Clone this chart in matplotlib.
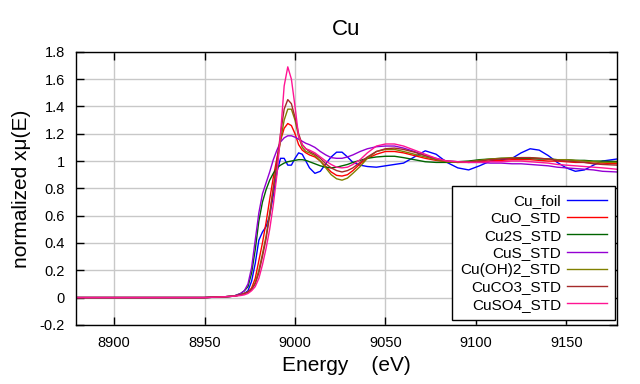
import matplotlib
matplotlib.use("Agg")
import matplotlib.pyplot as plt

plt.rcParams['font.family'] = ['Liberation Sans', 'DejaVu Sans']

energy = [8879, 8900, 8930, 8950, 8960, 8966, 8970, 8972, 8974, 8976, 8978, 8980, 8982, 8984, 8986,
          8988, 8990, 8992, 8994, 8996, 8998, 9000, 9002, 9004, 9006, 9008, 9011, 9014, 9017, 9020,
          9023, 9026, 9029, 9032, 9036, 9040, 9045, 9050, 9055, 9060, 9066, 9072, 9078, 9084, 9090,
          9096, 9102, 9108, 9114, 9120, 9125, 9130, 9135, 9140, 9145, 9150, 9155, 9160, 9165, 9170, 9178]

cu_foil = [0, 0, 0, 0, 0.005, 0.01, 0.02, 0.03, 0.05, 0.12, 0.25, 0.42, 0.48, 0.52, 0.6,
           0.75, 0.92, 1.02, 1.02, 0.97, 0.97, 1.02, 1.06, 1.05, 1.0, 0.95, 0.91, 0.925, 0.98, 1.03,
           1.065, 1.065, 1.03, 0.99, 0.97, 0.96, 0.955, 0.965, 0.975, 0.985, 1.03, 1.075, 1.05, 0.99, 0.95,
           0.935, 0.965, 1.0, 1.01, 1.02, 1.06, 1.09, 1.08, 1.04, 0.99, 0.95, 0.925, 0.935, 0.97, 1.0, 1.015]

cuo = [0, 0, 0, 0, 0.005, 0.01, 0.02, 0.03, 0.04, 0.07, 0.14, 0.27, 0.4, 0.55, 0.72,
       0.88, 1.02, 1.15, 1.24, 1.275, 1.26, 1.2, 1.12, 1.08, 1.06, 1.045, 1.03, 1.0, 0.96, 0.92,
       0.895, 0.89, 0.9, 0.93, 0.98, 1.02, 1.05, 1.07, 1.07, 1.06, 1.04, 1.02, 1.005, 0.995, 0.99,
       0.99, 0.995, 1.0, 1.005, 1.01, 1.01, 1.01, 1.005, 1.0, 1.0, 0.995, 0.99, 0.99, 0.985, 0.985, 0.98]

cu2s = [0, 0, 0, 0, 0.005, 0.01, 0.03, 0.05, 0.08, 0.18, 0.35, 0.56, 0.7, 0.79, 0.86,
        0.91, 0.95, 0.97, 0.985, 0.995, 1.0, 1.005, 1.01, 1.01, 1.005, 0.995, 0.98, 0.965, 0.955, 0.95,
        0.955, 0.965, 0.975, 0.99, 1.005, 1.02, 1.03, 1.035, 1.035, 1.025, 1.01, 0.995, 0.99, 0.99, 0.995,
        1.0, 1.01, 1.015, 1.02, 1.02, 1.02, 1.02, 1.015, 1.015, 1.01, 1.01, 1.005, 1.005, 1.0, 1.0, 0.995]

cus = [0, 0, 0, 0, 0.005, 0.01, 0.03, 0.05, 0.1, 0.22, 0.42, 0.62, 0.76, 0.84, 0.92,
       1.01, 1.08, 1.14, 1.17, 1.185, 1.185, 1.175, 1.16, 1.145, 1.13, 1.12, 1.1, 1.07, 1.045, 1.025,
       1.02, 1.02, 1.03, 1.045, 1.07, 1.09, 1.105, 1.11, 1.11, 1.095, 1.07, 1.04, 1.02, 1.0, 0.995,
       0.99, 0.99, 0.985, 0.985, 0.98, 0.98, 0.975, 0.97, 0.965, 0.955, 0.95, 0.945, 0.94, 0.935, 0.925, 0.92]

cuoh2 = [0, 0, 0, 0, 0.005, 0.01, 0.02, 0.03, 0.04, 0.06, 0.11, 0.2, 0.32, 0.45, 0.62,
         0.8, 0.98, 1.15, 1.3, 1.38, 1.38, 1.3, 1.18, 1.1, 1.07, 1.06, 1.04, 1.0, 0.95, 0.9,
         0.87, 0.86, 0.875, 0.91, 0.96, 1.02, 1.07, 1.085, 1.085, 1.07, 1.05, 1.03, 1.01, 0.995, 0.99,
         0.995, 1.005, 1.015, 1.02, 1.025, 1.025, 1.025, 1.02, 1.015, 1.01, 1.01, 1.005, 1.0, 0.995, 0.99, 0.99]

cuco3 = [0, 0, 0, 0, 0.005, 0.01, 0.02, 0.03, 0.04, 0.06, 0.1, 0.18, 0.3, 0.43, 0.6,
         0.8, 1.0, 1.2, 1.38, 1.45, 1.42, 1.32, 1.2, 1.12, 1.09, 1.07, 1.05, 1.02, 0.98, 0.95,
         0.93, 0.92, 0.93, 0.95, 0.99, 1.03, 1.07, 1.09, 1.095, 1.085, 1.065, 1.04, 1.015, 1.0, 0.995,
         0.995, 1.0, 1.01, 1.015, 1.02, 1.025, 1.025, 1.02, 1.015, 1.005, 1.0, 0.995, 0.99, 0.98, 0.975, 0.97]

cuso4 = [0, 0, 0, 0, 0.005, 0.01, 0.015, 0.02, 0.03, 0.05, 0.08, 0.14, 0.24, 0.36, 0.5,
         0.68, 0.9, 1.2, 1.55, 1.69, 1.6, 1.4, 1.18, 1.12, 1.09, 1.08, 1.06, 1.03, 1.0, 0.975,
         0.955, 0.95, 0.955, 0.975, 1.01, 1.06, 1.11, 1.125, 1.125, 1.11, 1.08, 1.05, 1.02, 1.0, 0.995,
         0.99, 0.99, 0.995, 0.995, 1.0, 1.0, 0.995, 0.99, 0.985, 0.975, 0.97, 0.965, 0.96, 0.955, 0.95, 0.94]

labels = ['Cu_foil', 'CuO_STD', 'Cu2S_STD', 'CuS_STD', 'Cu(OH)2_STD', 'CuCO3_STD', 'CuSO4_STD']
series = [cu_foil, cuo, cu2s, cus, cuoh2, cuco3, cuso4]
colors = ['#0000ff', '#ff0000', '#006400', '#9400d3', '#808000', '#a52a2a', '#ff1493']

xticks = [8900, 8950, 9000, 9050, 9100, 9150]
yticks = [-0.2, 0, 0.2, 0.4, 0.6, 0.8, 1.0, 1.2, 1.4, 1.6, 1.8]
ytick_labels = ['-0.2', '0', '0.2', '0.4', '0.6', '0.8', '1', '1.2', '1.4', '1.6', '1.8']

fig = plt.figure(figsize=(6.4, 3.84), dpi=100)
ax = fig.add_axes([0.119, 0.154, 0.845, 0.711])

for y, lab, c in zip(series, labels, colors):
    ax.plot(energy, y, color=c, lw=1.0, label=lab)

ax.set_xlim(8879, 9178)
ax.set_ylim(-0.2, 1.8)
ax.set_xticks(xticks)
ax.set_yticks(yticks)
ax.set_yticklabels(ytick_labels)
ax.grid(True, color='#c8c8c8', lw=1.0)
ax.set_axisbelow(True)
ax.tick_params(direction='in', length=6, width=1, top=True, right=True, labelsize=10.5, pad=8)
for s in ax.spines.values():
    s.set_linewidth(1.0)
    s.set_color('black')

ax.set_title('Cu', fontsize=16, pad=12)
ax.set_xlabel('Energy    (eV)', fontsize=15, labelpad=4)
ax.set_ylabel('normalized xμ(E)', fontsize=15, labelpad=6)

leg = ax.legend(loc='lower right', bbox_to_anchor=(0.997, 0.018), markerfirst=False,
                fancybox=False, edgecolor='black', framealpha=1, fontsize=11,
                handlelength=2.6, labelspacing=0.21, borderpad=0.55, handletextpad=0.4,
                borderaxespad=0)
leg.get_frame().set_linewidth(1.0)
for t in leg.get_texts():
    t.set_ha('right')
leg._legend_box.align = 'right'

fig.savefig('out.png', dpi=100)
